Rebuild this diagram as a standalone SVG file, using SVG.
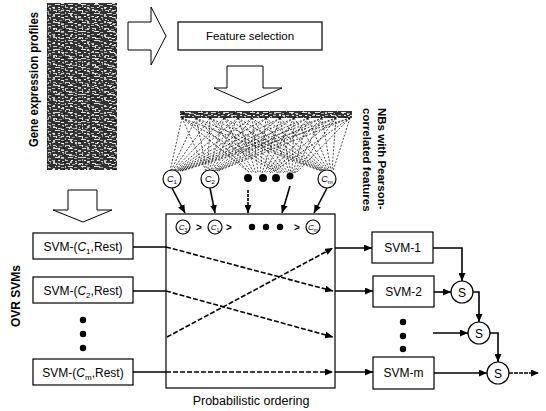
<svg xmlns="http://www.w3.org/2000/svg" width="546" height="411" viewBox="0 0 546 411">
<style>
.t{font-family:"Liberation Sans",Arial,sans-serif;fill:#000}
.b{font-weight:bold}
.box{fill:#fff;stroke:#000;stroke-width:1.2}
.harrow{fill:#fff;stroke:#000;stroke-width:1}
.ln{fill:none;stroke:#000;stroke-width:1.6}
.dl{fill:none;stroke:#000;stroke-width:1.6;stroke-dasharray:5 2}
.fan{fill:none;stroke:#000;stroke-width:0.7;stroke-dasharray:2 1.5}
.circ{fill:#fff;stroke:#000;stroke-width:1.2}
</style>
<defs>
<marker id="ah" viewBox="0 0 8 7" refX="8" refY="3.5" markerWidth="8" markerHeight="7" markerUnits="userSpaceOnUse" orient="auto">
<path d="M0,0L8,3.5L0,7z" fill="#000"/>
</marker>
<pattern id="noise" width="13" height="9" patternUnits="userSpaceOnUse">
<rect width="13" height="9" fill="#333"/>
<rect x="1" y="1" width="4" height="1" fill="#ccc"/>
<rect x="7" y="2" width="3" height="1" fill="#999"/>
<rect x="3" y="4" width="5" height="1" fill="#ddd"/>
<rect x="9" y="5" width="3" height="1" fill="#aaa"/>
<rect x="0" y="7" width="3" height="1" fill="#bbb"/>
<rect x="6" y="7" width="2" height="1" fill="#eee"/>
<rect x="11" y="0" width="1" height="2" fill="#888"/>
<rect x="4" y="2" width="1" height="1" fill="#fff"/>
<rect x="10" y="8" width="2" height="1" fill="#ccc"/>
</pattern>
<pattern id="noise2" width="17" height="7" patternUnits="userSpaceOnUse">
<rect x="2" y="0" width="2" height="2" fill="#eee"/>
<rect x="10" y="3" width="3" height="1" fill="#fff"/>
<rect x="14" y="5" width="1" height="2" fill="#ddd"/>
<rect x="5" y="5" width="2" height="1" fill="#111"/>
<rect x="12" y="1" width="2" height="1" fill="#000"/>
<rect x="7" y="2" width="2" height="1" fill="#fff"/>
</pattern>
</defs>

<g id="gene-expression">
<rect x="47" y="3" width="70" height="167" fill="url(#noise)"/>
<rect x="47" y="3" width="70" height="167" fill="url(#noise2)" opacity="0.8"/>
<text class="t b" font-size="12" transform="translate(38,147) rotate(-90)" textLength="135" lengthAdjust="spacingAndGlyphs">Gene expression profiles</text>
</g>

<g id="arrow-right">
<polygon class="harrow" points="128,22 151,22 151,7 166,36 151,65 151,50 128,50"/>
</g>

<g id="feature-selection">
<rect class="box" x="178" y="22" width="144" height="28"/>
<text class="t" font-size="11.5" x="250" y="40" text-anchor="middle">Feature selection</text>
</g>

<g id="arrow-down-top">
<polygon class="harrow" points="227,66 263,66 263,88 282,88 248,103 214,88 227,88"/>
</g>

<g id="naive-bayes">
<rect x="180" y="111" width="172" height="7" fill="url(#noise)"/>
<rect x="180" y="111" width="172" height="7" fill="url(#noise2)" opacity="0.8"/>
<path class="fan" d="M182 118L170 171M196 118L171 171M210 118L172 171M224 118L173 171M238 118L174 171M252 118L175 171M266 118L176 171M280 118L177 171M294 118L178 171M308 118L179 171M322 118L180 171M336 118L181 171M350 118L182 171
M182 118L206 171M196 118L207 171M210 118L208 171M224 118L209 171M238 118L210 171M252 118L211 171M266 118L212 171M280 118L213 171M294 118L214 171M308 118L215 171M322 118L216 171M336 118L217 171M350 118L218 171
M182 118L250 173M196 118L250 173M210 118L252 173M224 118L254 173M238 118L256 173M252 118L258 173M266 118L260 173M280 118L262 173M294 118L264 173M308 118L266 173M322 118L268 173M336 118L270 173M350 118L272 173
M182 118L278 173M196 118L280 173M210 118L282 173M224 118L284 173M238 118L286 173M252 118L288 173M266 118L290 173M280 118L291 173M294 118L292 173M308 118L293 173M322 118L294 173M336 118L295 173M350 118L296 173
M182 118L321 171M196 118L322 171M210 118L323 171M224 118L324 171M238 118L325 171M252 118L326 171M266 118L327 171M280 118L328 171M294 118L329 171M308 118L330 171M322 118L331 171M336 118L332 171M350 118L333 171"/>
<text class="t b" font-size="11.5" transform="translate(378,108) rotate(90)">NBs with Pearson-</text>
<text class="t b" font-size="11.5" transform="translate(363,108) rotate(90)">correlated features</text>
</g>

<g id="class-c1">
<circle class="circ" cx="172" cy="179" r="9"/>
<text class="t" font-size="9" x="172" y="182" text-anchor="middle"><tspan font-style="italic">C</tspan><tspan font-size="6" dy="2">1</tspan></text>
</g>
<g id="class-c2">
<circle class="circ" cx="210" cy="179" r="9"/>
<text class="t" font-size="9" x="210" y="182" text-anchor="middle"><tspan font-style="italic">C</tspan><tspan font-size="6" dy="2">2</tspan></text>
</g>
<g id="class-dots">
<circle cx="248" cy="178" r="4" fill="#000"/>
<circle cx="263" cy="178" r="4" fill="#000"/>
<circle cx="276" cy="178" r="4" fill="#000"/>
<circle cx="290" cy="176" r="3.5" fill="#000"/>
</g>
<g id="class-cm">
<circle class="circ" cx="327" cy="179" r="9"/>
<text class="t" font-size="9" x="327" y="182" text-anchor="middle"><tspan font-style="italic">C</tspan><tspan font-size="6" dy="2">m</tspan></text>
</g>

<g id="probabilistic-ordering">
<rect class="box" x="166" y="214" width="169" height="174"/>
<circle class="circ" cx="183" cy="227" r="7"/>
<text class="t" font-size="8" x="183" y="230" text-anchor="middle"><tspan font-style="italic">C</tspan><tspan font-size="5" dy="1.5">3</tspan></text>
<text class="t b" font-size="10" x="199" y="231" text-anchor="middle">&gt;</text>
<circle class="circ" cx="215" cy="227" r="7"/>
<text class="t" font-size="8" x="215" y="230" text-anchor="middle"><tspan font-style="italic">C</tspan><tspan font-size="5" dy="1.5">1</tspan></text>
<text class="t b" font-size="10" x="229" y="231" text-anchor="middle">&gt;</text>
<circle cx="252" cy="227" r="3.2" fill="#000"/>
<circle cx="266" cy="227" r="3.2" fill="#000"/>
<circle cx="280" cy="227" r="3.2" fill="#000"/>
<text class="t b" font-size="10" x="297" y="231" text-anchor="middle">&gt;</text>
<circle class="circ" cx="313" cy="227" r="7"/>
<text class="t" font-size="8" x="313" y="230" text-anchor="middle"><tspan font-style="italic">C</tspan><tspan font-size="5" dy="1.5">m</tspan></text>
<text class="t" font-size="12.5" x="251" y="405" text-anchor="middle">Probabilistic ordering</text>
</g>

<g id="arrow-down-left">
<polygon class="harrow" points="68,190 97,190 97,210 112,210 83,222 53,210 68,210"/>
</g>

<g id="ovr-label">
<text class="t b" font-size="12" transform="translate(20,327) rotate(-90)">OVR SVMs</text>
</g>

<g id="svm-c1">
<rect class="box" x="33" y="233" width="100" height="26"/>
<text class="t" font-size="12" x="83" y="251" text-anchor="middle">SVM-(<tspan font-style="italic">C</tspan><tspan font-size="8" dy="3">1</tspan><tspan dy="-3">,Rest)</tspan></text>
</g>
<g id="svm-c2">
<rect class="box" x="33" y="277" width="100" height="26"/>
<text class="t" font-size="12" x="83" y="295" text-anchor="middle">SVM-(<tspan font-style="italic">C</tspan><tspan font-size="8" dy="3">2</tspan><tspan dy="-3">,Rest)</tspan></text>
</g>
<g id="svm-dots-left">
<circle cx="83" cy="320" r="3.2" fill="#000"/>
<circle cx="83" cy="334" r="3.2" fill="#000"/>
<circle cx="83" cy="348" r="3.2" fill="#000"/>
</g>
<g id="svm-cm">
<rect class="box" x="33" y="359" width="100" height="26"/>
<text class="t" font-size="12" x="83" y="377" text-anchor="middle">SVM-(<tspan font-style="italic">C</tspan><tspan font-size="8" dy="3">m</tspan><tspan dy="-3">,Rest)</tspan></text>
</g>

<g id="svm-1">
<rect class="box" x="372" y="232" width="61" height="31"/>
<text class="t" font-size="12" x="402.5" y="252" text-anchor="middle">SVM-1</text>
</g>
<g id="svm-2">
<rect class="box" x="373" y="276" width="61" height="31"/>
<text class="t" font-size="12" x="403.5" y="296" text-anchor="middle">SVM-2</text>
</g>
<g id="svm-dots-right">
<circle cx="403" cy="322" r="3.2" fill="#000"/>
<circle cx="403" cy="336" r="3.2" fill="#000"/>
<circle cx="403" cy="349" r="3.2" fill="#000"/>
</g>
<g id="svm-m">
<rect class="box" x="373" y="357" width="61" height="32"/>
<text class="t" font-size="12" x="403.5" y="377" text-anchor="middle">SVM-m</text>
</g>

<g id="sum-1">
<circle class="circ" cx="462" cy="292" r="11"/>
<text class="t" font-size="12" x="462" y="296.5" text-anchor="middle">S</text>
</g>
<g id="sum-2">
<circle class="circ" cx="479" cy="333" r="11"/>
<text class="t" font-size="12" x="479" y="337.5" text-anchor="middle">S</text>
</g>
<g id="sum-3">
<circle class="circ" cx="498" cy="373" r="11"/>
<text class="t" font-size="12" x="498" y="377.5" text-anchor="middle">S</text>
</g>

<g id="connectors">
<path class="ln" d="M172 188L185 213" marker-end="url(#ah)"/>
<path class="ln" d="M210 188L215 213" marker-end="url(#ah)"/>
<path class="ln" d="M248 190L248 213" marker-end="url(#ah)" stroke-dasharray="3 1"/>
<path class="ln" d="M290 186L282 213" marker-end="url(#ah)"/>
<path class="ln" d="M327 188L314 213" marker-end="url(#ah)"/>

<path class="ln" d="M133 247H166"/>
<path class="dl" d="M166 247L333 291" marker-end="url(#ah)"/>
<path class="ln" d="M133 291H166"/>
<path class="dl" d="M166 291L333 337" marker-end="url(#ah)"/>
<path class="dl" d="M167 337L333 248" marker-end="url(#ah)"/>
<path class="ln" d="M133 372H166"/>
<path class="dl" d="M166 372H333" marker-end="url(#ah)"/>

<path class="ln" d="M335 248H372" marker-end="url(#ah)"/>
<path class="ln" d="M335 291H373" marker-end="url(#ah)"/>
<path class="ln" d="M335 372H373" marker-end="url(#ah)"/>

<path class="ln" stroke-width="1.2" d="M433 248H462V281" marker-end="url(#ah)"/>
<path class="ln" stroke-width="1.2" d="M434 292H451" marker-end="url(#ah)"/>
<path class="ln" stroke-width="1.2" d="M473 292H479V322" marker-end="url(#ah)"/>
<path class="ln" stroke-width="1.2" d="M433 333H468" marker-end="url(#ah)"/>
<path class="ln" stroke-width="1.2" d="M490 333H498V362" marker-end="url(#ah)"/>
<path class="ln" stroke-width="1.2" d="M434 373H487" marker-end="url(#ah)"/>
<path class="ln" stroke-width="1.2" d="M509 373H539" marker-end="url(#ah)" stroke-dasharray="4 1"/>
</g>
</svg>
